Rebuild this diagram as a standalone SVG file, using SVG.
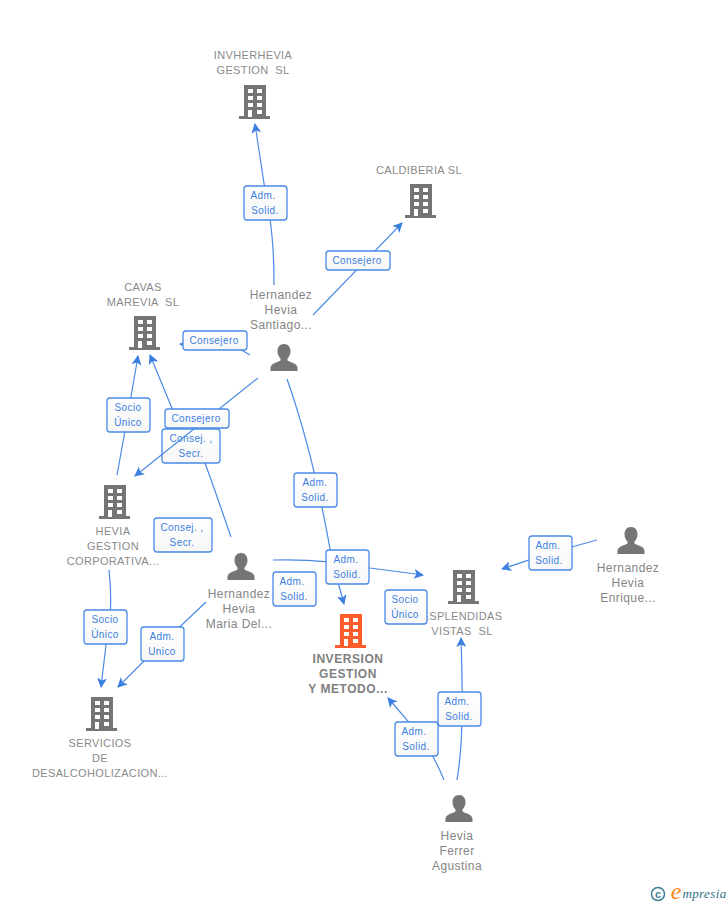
<svg xmlns="http://www.w3.org/2000/svg" width="728" height="905" viewBox="0 0 728 905">
<style>
text{font-family:"Liberation Sans",Arial,sans-serif;text-anchor:middle;white-space:pre}
.n{font-size:11px;fill:#8a8a8a;letter-spacing:.35px}
.p{font-size:12px;fill:#858585;letter-spacing:.42px}
.b{font-size:12px;font-weight:700;fill:#808080;letter-spacing:.55px}
.l{font-size:10px;fill:#3b7fe0;letter-spacing:.4px}
.r{fill:url(#bg);stroke:#4a8ae6;stroke-width:1.3}
.c{fill:none;stroke:#4a8ae6;stroke-width:1.2}
.g{fill:#757575}
.o{fill:#ff5c2b}
.w{fill:#fff}
</style>
<defs>
<linearGradient id="bg" x1="0" y1="0" x2="0" y2="1"><stop offset="0" stop-color="#fff"/><stop offset="1" stop-color="#f7f7f7"/></linearGradient>
<marker id="a" markerWidth="12" markerHeight="10" refX="9" refY="5" orient="auto" markerUnits="userSpaceOnUse"><path d="M0 0L10 5L0 10L2.500 5Z" fill="#3b7fe0"/></marker>
<g id="bld"><path d="M-11 -17H11V14H15V17H-16V14H-11Z"/><g class="w"><rect x="-7" y="-13" width="5" height="4"/><rect x="2" y="-13" width="5" height="4"/><rect x="-7" y="-6" width="5" height="4"/><rect x="2" y="-6" width="5" height="4"/><rect x="-7" y="1" width="5" height="4"/><rect x="2" y="1" width="5" height="4"/><rect x="-7" y="8" width="4" height="7"/><rect x="2" y="8" width="5" height="4"/></g></g>
<path id="per" d="M0 -14C4.500 -14 6.500 -10.500 6.500 -7C6.500 -3.500 5 -1 3.500 .5V2.500C7 4.500 13 5.500 13.500 9.500V13H-13.500V9.500C-13 5.500 -7 4.500 -3.500 2.500V.5C-5 -1 -6.500 -3.500 -6.500 -7C-6.500 -10.500 -4.500 -14 0 -14Z"/>
</defs>
<g id="connectors">
<path class="c" d="M274 285C274 250 272 225 265 190L255 124" marker-end="url(#a)"/>
<path class="c" d="M313 315L402 223" marker-end="url(#a)"/>
<path class="c" d="M250 355L240 349L180 344" marker-end="url(#a)"/>
<path class="c" d="M287 379C305 430 320 490 332 560L344 604" marker-end="url(#a)"/>
<path class="c" d="M117 475L127 420L138 356" marker-end="url(#a)"/>
<path class="c" d="M231 537C220 505 208 470 200 450L176 418L150 355" marker-end="url(#a)"/>
<path class="c" d="M273 560C310 559 340 562 370 568L423 575" marker-end="url(#a)"/>
<path class="c" d="M109 570C112 600 111 620 106 645L101 687" marker-end="url(#a)"/>
<path class="c" d="M206 602L150 655L118 687" marker-end="url(#a)"/>
<path class="c" d="M597 540L550 553L502 569" marker-end="url(#a)"/>
<path class="c" d="M457 780C463 745 463 700 461 638" marker-end="url(#a)"/>
<path class="c" d="M444 780C438 765 430 750 420 735L388 698" marker-end="url(#a)"/>
</g>
<g id="n-invherhevia"><text class="n" x="253" y="59">INVHERHEVIA</text><text class="n" x="253" y="74">GESTION  SL</text><use href="#bld" class="g" x="255" y="102"/></g>
<g id="n-caldiberia"><text class="n" x="419" y="174">CALDIBERIA SL</text><use href="#bld" class="g" x="421" y="201"/></g>
<g id="n-cavas"><text class="n" x="143" y="291">CAVAS</text><text class="n" x="143" y="306">MAREVIA  SL</text><use href="#bld" class="g" x="145" y="333"/></g>
<g id="n-santiago"><text class="p" x="281" y="299">Hernandez</text><text class="p" x="281" y="314">Hevia</text><text class="p" x="281" y="329">Santiago...</text><use href="#per" class="g" x="284" y="358"/></g>
<g id="n-corporativa"><use href="#bld" class="g" x="115" y="502"/><text class="n" x="113" y="535">HEVIA</text><text class="n" x="113" y="550">GESTION</text><text class="n" x="113" y="565">CORPORATIVA...</text></g>
<g id="n-maria"><use href="#per" class="g" x="241" y="567"/><text class="p" x="239" y="598">Hernandez</text><text class="p" x="239" y="613">Hevia</text><text class="p" x="239" y="628">Maria Del...</text></g>
<g id="n-inversion"><use href="#bld" class="o" x="351" y="631"/><text class="b" x="348" y="663">INVERSION</text><text class="b" x="348" y="678">GESTION</text><text class="b" x="348" y="693">Y METODO...</text></g>
<g id="n-splendidas"><use href="#bld" class="g" x="464" y="587"/><text class="n" x="462" y="620">ESPLENDIDAS</text><text class="n" x="462" y="635">VISTAS  SL</text></g>
<g id="n-enrique"><use href="#per" class="g" x="631" y="541"/><text class="p" x="628" y="572">Hernandez</text><text class="p" x="628" y="587">Hevia</text><text class="p" x="628" y="602">Enrique...</text></g>
<g id="n-servicios"><use href="#bld" class="g" x="102" y="714"/><text class="n" x="100" y="747">SERVICIOS</text><text class="n" x="100" y="762">DE</text><text class="n" x="100" y="777">DESALCOHOLIZACION...</text></g>
<g id="n-agustina"><use href="#per" class="g" x="459" y="809"/><text class="p" x="457" y="840">Hevia</text><text class="p" x="457" y="855">Ferrer</text><text class="p" x="457" y="870">Agustina</text></g>
<g id="edge-labels">
<rect class="r" x="244" y="186" width="43" height="34" rx="3"/><text class="l" x="263" y="199">Adm.</text><text class="l" x="265" y="214">Solid.</text>
<rect class="r" x="326" y="251" width="64" height="19" rx="3"/><text class="l" x="357" y="264">Consejero</text>
<rect class="r" x="183" y="331" width="64" height="19" rx="3"/><text class="l" x="214" y="344">Consejero</text>
<rect class="r" x="107" y="398" width="43" height="34" rx="3"/><text class="l" x="128" y="411">Socio</text><text class="l" x="128" y="426">Único</text>
<rect class="r" x="162" y="429" width="58" height="34" rx="3"/><text class="l" x="191" y="442">Consej. ,</text><text class="l" x="191" y="457">Secr.</text>
<rect class="r" x="294" y="473" width="43" height="34" rx="3"/><text class="l" x="315" y="486">Adm.</text><text class="l" x="315" y="501">Solid.</text>
<rect class="r" x="154" y="518" width="58" height="34" rx="3"/><text class="l" x="182" y="531">Consej. ,</text><text class="l" x="182" y="546">Secr.</text>
<rect class="r" x="326" y="550" width="43" height="34" rx="3"/><text class="l" x="346" y="563">Adm.</text><text class="l" x="347" y="578">Solid.</text>
<rect class="r" x="273" y="572" width="43" height="34" rx="3"/><text class="l" x="292" y="585">Adm.</text><text class="l" x="294" y="600">Solid.</text>
<rect class="r" x="385" y="590" width="42" height="34" rx="3"/><text class="l" x="405" y="603">Socio</text><text class="l" x="405" y="618">Único</text>
<rect class="r" x="529" y="536" width="43" height="34" rx="3"/><text class="l" x="548" y="549">Adm.</text><text class="l" x="549" y="564">Solid.</text>
<rect class="r" x="84" y="610" width="43" height="34" rx="3"/><text class="l" x="105" y="623">Socio</text><text class="l" x="105" y="638">Único</text>
<rect class="r" x="141" y="627" width="43" height="34" rx="3"/><text class="l" x="162" y="640">Adm.</text><text class="l" x="162" y="655">Unico</text>
<rect class="r" x="395" y="722" width="43" height="34" rx="3"/><text class="l" x="414" y="735">Adm.</text><text class="l" x="416" y="750">Solid.</text>
<rect class="r" x="438" y="692" width="43" height="34" rx="3"/><text class="l" x="457" y="705">Adm.</text><text class="l" x="459" y="720">Solid.</text>
</g>
<g id="top-connector"><path class="c" d="M258 378L135 476" marker-end="url(#a)"/></g>
<g id="top-label"><rect class="r" x="165" y="409" width="64" height="19" rx="3"/><text class="l" x="196" y="422">Consejero</text></g>
<g id="logo"><circle cx="658" cy="894" r="6.500" fill="none" stroke="#3f7f96" stroke-width="1.500"/><text x="658" y="897.500" style="font-size:11px;font-weight:700;fill:#3f7f96">c</text><text x="676" y="899" style="font-family:'Liberation Serif',serif;font-size:24px;font-style:italic;fill:#f58a1f">e</text><text x="704.500" y="898" style="font-family:'Liberation Serif',serif;font-size:13px;font-style:italic;fill:#2f6f86;letter-spacing:.4px">mpresia</text></g>
</svg>
